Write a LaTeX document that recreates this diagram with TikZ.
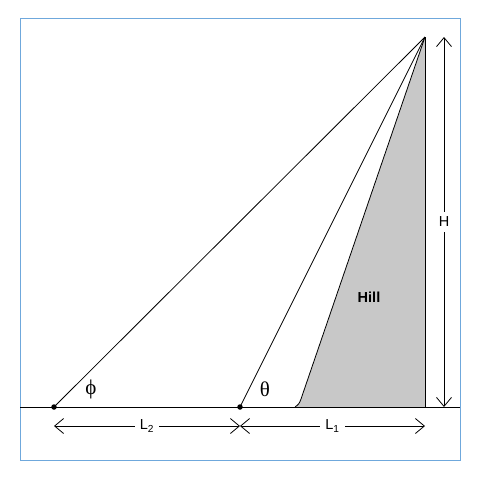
\documentclass[tikz,border=0pt]{standalone}
\usepackage{fontspec}
\setmainfont{Liberation Sans}
\newfontfamily\grk{Liberation Serif}
\usetikzlibrary{arrows.meta}
\definecolor{frameblue}{HTML}{6FA8DC}
\definecolor{hillgray}{HTML}{C8C8C8}
\begin{document}
\begin{tikzpicture}[x=1pt,y=-1pt,
  dim/.style={line width=0.8pt,{Straight Barb[length=9pt,width=15pt]}-{Straight Barb[length=9pt,width=15pt]}},
  lbl/.style={fill=white,inner sep=5pt,font=\fontsize{14.5}{16}\selectfont},
  greek/.style={font=\grk\fontsize{21}{23}\selectfont},
  dot/.style={circle,fill=black,inner sep=0pt,minimum size=5.5pt}]
\useasboundingbox (0,0) rectangle (480,480);
\draw[frameblue,line width=1pt] (20,18) rectangle (460,460);
% hill
\coordinate (apex) at (425,37);
\coordinate (hb) at (295,407);
\coordinate (hr) at (425,407);
\fill[hillgray] (apex) -- (301,399) .. controls (299,404) .. (hb) -- (hr) -- cycle;
\draw[line width=0.8pt] (apex) -- (301,399) .. controls (299,404) .. (hb);
\draw[line width=0.8pt] (apex) -- (hr);
% ground
\coordinate (gl) at (20,407);
\coordinate (gr) at (460,407);
\draw[line width=1pt] (gl) -- (gr);
% observer points
\node[dot] (p2) at (54,407) {};
\node[dot] (p1) at (240,407) {};
\draw[line width=0.8pt] (p2.center) -- (apex);
\draw[line width=0.8pt] (p1.center) -- (apex);
\node[greek] (phi) at (91,389) {ϕ};
\node[greek] (theta) at (265,389) {θ};
\node[font=\bfseries\fontsize{14.5}{16}\selectfont] (hill) at (369,297) {Hill};
% dimensions
\coordinate (a2) at (54,426);
\coordinate (b2) at (240,426);
\coordinate (a1) at (240,426);
\coordinate (b1) at (425,426);
\coordinate (ht) at (444,37);
\coordinate (hbm) at (444,407);
\draw[dim] (a2) -- node[lbl] (L2) {L\textsubscript{2}} (b2);
\draw[dim] (a1) -- node[lbl] (L1) {L\textsubscript{1}} (b1);
\draw[dim] (ht) -- node[lbl] (H) {H} (hbm);
\end{tikzpicture}
\end{document}
